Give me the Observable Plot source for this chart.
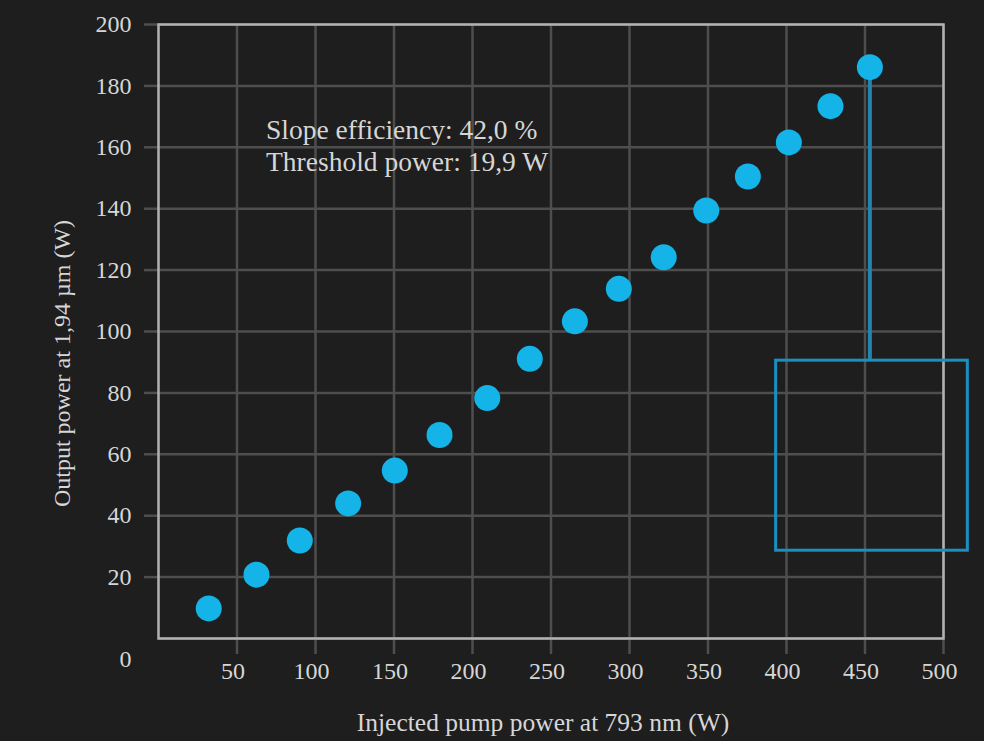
<!DOCTYPE html>
<html>
<head>
<meta charset="utf-8">
<script src="https://cdn.jsdelivr.net/npm/d3@7"></script>
<script src="https://cdn.jsdelivr.net/npm/@observablehq/plot@0.6"></script>
<style>
  html, body { margin: 0; padding: 0; background: #1e1e1e; }
  #chart { width: 984px; height: 741px; overflow: hidden; }
</style>
</head>
<body>
<div id="chart"></div>
<script>
// ---- data ----
const pumpPower = [32.0, 62.4, 90.0, 120.8, 150.5, 179.0, 209.4, 236.5, 265.2, 293.2, 321.8, 348.9, 375.4, 401.5, 428.0, 453.1];
const outputPower = [9.8, 20.8, 31.9, 44.0, 54.7, 66.3, 78.3, 91.1, 103.3, 113.9, 124.2, 139.4, 150.5, 161.6, 173.4, 186.1];
const xTicks = [50, 100, 150, 200, 250, 300, 350, 400, 450, 500];
const yTicks = [20, 40, 60, 80, 100, 120, 140, 160, 180, 200];
const originTick = [0];
const annotationLines = ["Slope efficiency: 42,0 %", "Threshold power: 19,9 W"];
const insetBoxX = [393.4, 515.5];
const insetBoxY = [28.6, 90.5];
const xLabel = "Injected pump power at 793 nm (W)";
const yLabel = "Output power at 1,94 µm (W)";

// ---- styling ----
const bg = "#1e1e1e";
const gridColor = "#4e4e4e";
const frameColor = "#b2b2b2";
const textColor = "#d6d6d6";
const dotColor = "#14b4e8";
const boxColor = "#1b90c0";
const leaderColor = "#2584ad";
const font = "'Liberation Serif', 'DejaVu Serif', serif";
const annotAnchor = {x: 68.5, y: 170.5};

const points = pumpPower.map((p, i) => ({p, o: outputPower[i]}));
const last = points[points.length - 1];

const chart = Plot.plot({
  width: 984,
  height: 741,
  marginLeft: 158,
  marginRight: 41,
  marginTop: 24,
  marginBottom: 103,
  style: {background: bg, color: textColor, fontFamily: font},
  x: {domain: [0, 500]},
  y: {domain: [0, 200]},
  marks: [
    Plot.gridX(xTicks, {stroke: gridColor, strokeOpacity: 1, strokeWidth: 2.5}),
    Plot.gridY(yTicks, {stroke: gridColor, strokeOpacity: 1, strokeWidth: 2.5}),
    Plot.axisX(xTicks, {tickSize: 16, tickFormat: () => "", stroke: gridColor, strokeWidth: 2.5, label: null}),
    Plot.axisX(xTicks, {tickSize: 0, tickPadding: 23, dx: -4, fontSize: 24, fill: textColor, label: null}),
    Plot.axisY(yTicks, {tickSize: 14, tickPadding: 13, stroke: gridColor, strokeWidth: 2.5, fontSize: 24, fill: textColor, label: null}),
    Plot.tickY(originTick, {y: d => d, x1: -18 / 1.57, x2: 0, stroke: gridColor, strokeWidth: 2.5, clip: false}),
    Plot.text(originTick, {x: d => d, y: d => d, text: d => String(d), textAnchor: "end", dx: -27, dy: 21, fontSize: 24, fill: textColor}),
    Plot.frame({stroke: frameColor, strokeWidth: 2.5}),
    Plot.ruleX([last], {x: "p", y1: () => insetBoxY[1], y2: "o", stroke: leaderColor, strokeWidth: 4}),
    Plot.rect([0], {x1: () => insetBoxX[0], x2: () => insetBoxX[1], y1: () => insetBoxY[0], y2: () => insetBoxY[1], fill: "none", stroke: boxColor, strokeWidth: 3, clip: false}),
    Plot.dot(points, {x: "p", y: "o", r: 13, fill: dotColor, stroke: "none"}),
    Plot.text([annotationLines.join("\n")], {x: () => annotAnchor.x, y: () => annotAnchor.y, text: d => d, textAnchor: "start", lineAnchor: "top", lineHeight: 1.2, fontSize: 27.5, fill: textColor}),
    Plot.text([xLabel], {frameAnchor: "bottom", dx: -8, dy: 84, text: d => d, fontSize: 25.5, fill: textColor, textAnchor: "middle", lineAnchor: "middle"}),
    Plot.text([yLabel], {frameAnchor: "left", dx: -96, dy: 32, rotate: -90, text: d => d, fontSize: 24, fill: textColor, textAnchor: "middle", lineAnchor: "middle"})
  ]
});
document.getElementById("chart").appendChild(chart);
</script>
</body>
</html>
